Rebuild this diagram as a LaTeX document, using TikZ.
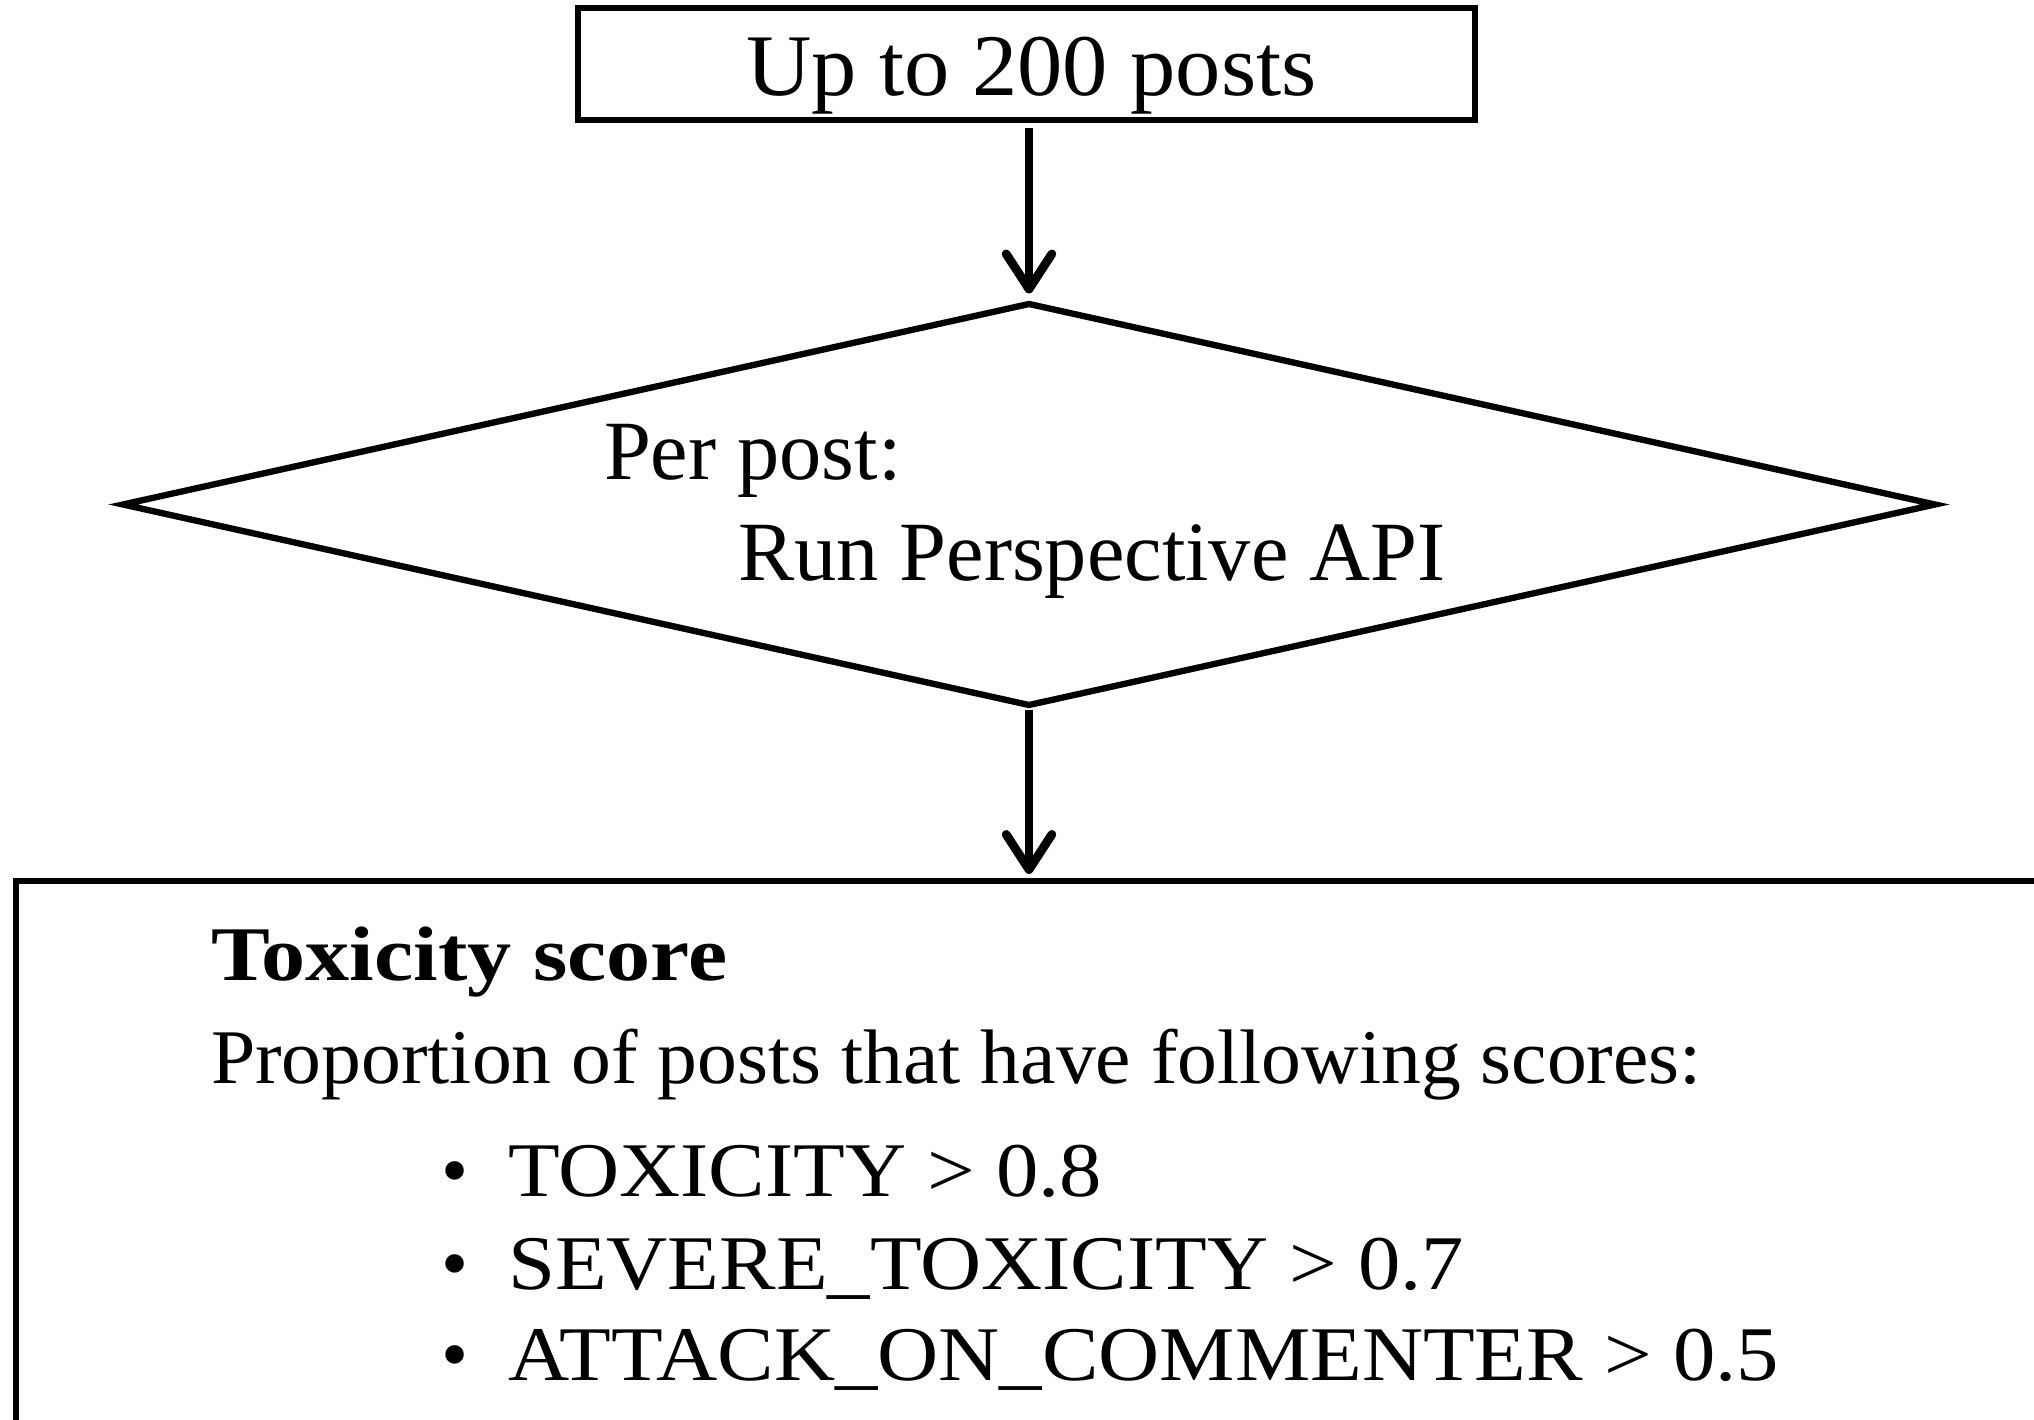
\documentclass[tikz,border=0pt]{standalone}
\usepackage{fontspec}
\setmainfont{Liberation Serif}
\newfontfamily\topfont{Liberation Serif}[FakeStretch=1.03]
\newfontfamily\propfont{Liberation Serif}[FakeStretch=1.03]
\newfontfamily\listfont{Liberation Serif}[FakeStretch=1.095]
\newfontfamily\headfont{Liberation Serif}[FakeStretch=1.14]
\usetikzlibrary{shapes.geometric,arrows.meta}
\tikzset{
  shapeline/.style={draw=black, line width=1.8pt},
  flowarrow/.style={draw=black, line width=2.5pt,
    -{Straight Barb[length=10pt,width=13pt,line cap=round,line join=round]}},
  txt/.style={anchor=base west, inner sep=0pt, outer sep=0pt},
  bodytxt/.style={txt, font=\fontsize{22}{26}\selectfont},
}
\begin{document}
\begin{tikzpicture}[x=0.1mm, y=-0.1mm]
\useasboundingbox (0,0) rectangle (2034,1420);
% top box
\node[shapeline, rectangle, minimum width=89.7mm, minimum height=11.2mm, inner sep=0pt, outer sep=0pt]
  (top) at (1026.5,64) {};
\node[txt, font=\fontsize{25}{30}\topfont] (toptxt) at (746,95.5) {Up to 200 posts};
% diamond
\node[shapeline, diamond, minimum width=181.2mm, minimum height=40.1mm, inner sep=0pt, outer sep=0pt]
  (dia) at (1029,504.5) {};
\node[txt, font=\fontsize{24}{29}\selectfont] (per) at (604,480) {Per post:};
\node[txt, font=\fontsize{24}{29}\selectfont] (run) at (738,581) {Run Perspective API};
% bottom box
\node[shapeline, rectangle, minimum width=204.4mm, minimum height=55.9mm, inner sep=0pt, outer sep=0pt]
  (res) at (1038,1160.5) {};
\node[txt, font=\fontsize{22}{26}\headfont\bfseries] (tox) at (211,980) {Toxicity score};
\node[txt, font=\fontsize{22}{26}\propfont] (prop) at (211,1083) {Proportion of posts that have following scores:};
\node[bodytxt] (b1) at (441,1196) {•};
\node[txt, font=\fontsize{22}{26}\listfont] (l1) at (508,1196) {TOXICITY > 0.8};
\node[bodytxt] (b2) at (441,1289) {•};
\node[txt, font=\fontsize{22}{26}\listfont] (l2) at (508,1289) {SEVERE\_TOXICITY > 0.7};
\node[bodytxt] (b3) at (441,1380) {•};
\node[txt, font=\fontsize{22}{26}\listfont] (l3) at (508,1380) {ATTACK\_ON\_COMMENTER > 0.5};
% arrows
\draw[flowarrow, shorten <=2.3pt, shorten >=3pt] (top.south -| dia.north) -- (dia.north);
\draw[flowarrow, shorten <=1.5pt, shorten >=2pt] (dia.south) -- (dia.south |- res.north);
\end{tikzpicture}
\end{document}
